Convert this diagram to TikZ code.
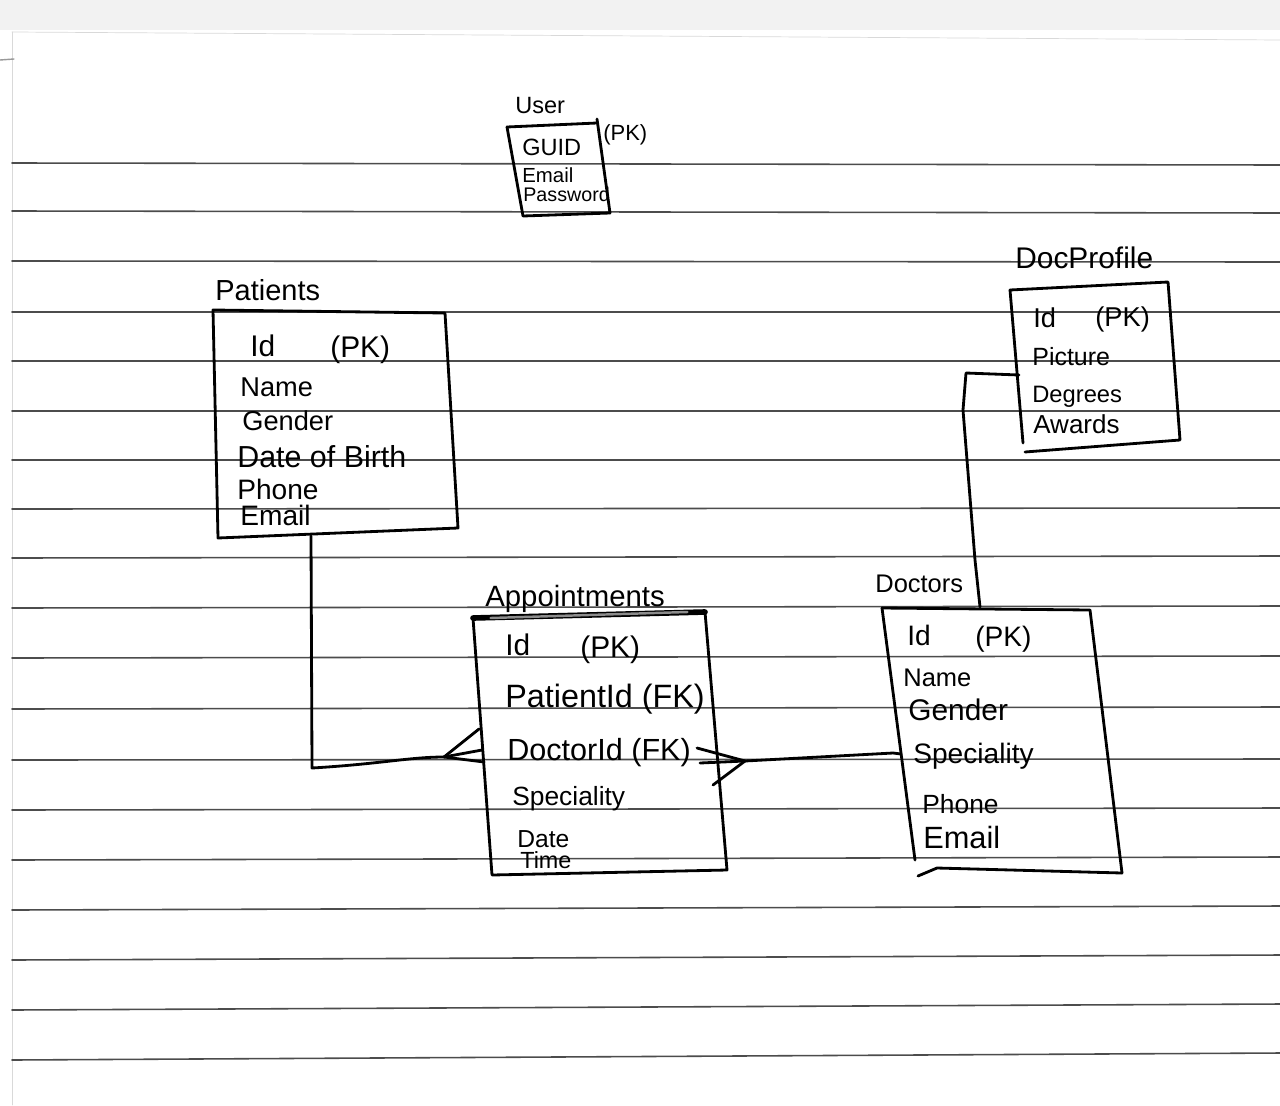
\documentclass[tikz,border=0pt]{standalone}
\usepackage{fontspec}
\setmainfont{Liberation Sans}
\begin{document}
\begin{tikzpicture}[x=0.02cm, y=-0.02cm, line cap=round, line join=round,
  rule/.style={black!70, line width=0.9pt},
  ink/.style={black, line width=1.6pt},
  lbl/.style={inner sep=0pt, anchor=base west, font=\fontsize{#1}{#1}\selectfont},
]
\useasboundingbox (0,0) rectangle (1280,1105);
\fill[white] (0,0) rectangle (1280,1105);
% paper edge
\fill[black!5] (0,0) rectangle (1280,30);
\draw[black!15, line width=0.4pt] (12,32) -- (12,1105);
\draw[black!15, line width=0.4pt] (12,32) -- (1280,40);
\draw[black!40, line width=0.8pt] (0,60) -- (14,59);

% ruled lines of the sheet
\foreach \y/\d in {163/2, 211/2, 261/1, 312/0, 361/0, 411/0, 460/0, 509/-1, 558/-2,
                   608/-2, 658/-2, 709/-2, 760/-1, 810/-2, 860/-3, 910/-4, 960/-5,
                   1010/-6, 1060/-7}
  \draw[rule] (12,\y) -- (1280,\y+\d);

% ---------- User ----------
\node[lbl=13.4] (usertitle) at (515,113) {User};
\coordinate (u1) at (507,127);
\coordinate (u2) at (597,123);
\coordinate (u2t) at (597,119);
\coordinate (u3) at (610,213);
\coordinate (u4) at (523,216);
\draw[ink] (u1) -- (u2);
\draw[ink] (u2t) -- (u3);
\draw[ink] (u1) -- (u4) -- (u3);
\node[lbl=13.4] (guid) at (522,155) {GUID};
\node[lbl=12.5] (guidpk) at (603,140) {(PK)};
\node[lbl=11.6] (uemail) at (522,182) {Email};
\node[lbl=11.2] (upass) at (523,201) {Password};

% ---------- Patients ----------
\node[lbl=16.5] (pattitle) at (215,300) {Patients};
\coordinate (p1) at (213,310);
\coordinate (p2) at (445,313);
\coordinate (p3) at (458,528);
\coordinate (p4) at (218,538);
\draw[ink] (p1) -- (p2) -- (p3) -- (p4) -- cycle;
\node[lbl=17] (pid) at (250,356) {Id};
\node[lbl=17] (ppk) at (330,357) {(PK)};
\node[lbl=15.5] (pname) at (240,396) {Name};
\node[lbl=15.5] (pgender) at (242,430) {Gender};
\node[lbl=17.3] (pdob) at (237,467) {Date of Birth};
\node[lbl=16] (pphone) at (237,499) {Phone};
\node[lbl=16] (pemail) at (240,525) {Email};

% ---------- Appointments ----------
\node[lbl=16.7] (apptitle) at (485,606) {Appointments};
\coordinate (a1) at (473,618);
\coordinate (a2) at (705,612);
\coordinate (a3) at (727,870);
\coordinate (a4) at (492,875);
\draw[ink] (a2) -- (a3) -- (a4) -- (a1);
\draw[black, line width=3.2pt] (a1) -- (a2);
\draw[black!45, line width=1.4pt] ([xshift=10]a1) -- ([xshift=-10]a2);
\node[lbl=17] (aid) at (505,655) {Id};
\node[lbl=17] (apk) at (580,657) {(PK)};
\node[lbl=18.4] (apat) at (505,707) {PatientId (FK)};
\node[lbl=17.4] (adoc) at (507,760) {DoctorId (FK)};
\node[lbl=15] (aspec) at (512,805) {Speciality};
\node[lbl=14] (adate) at (517,847) {Date};
\node[lbl=13.3] (atime) at (520,868) {Time};

% ---------- Doctors ----------
\node[lbl=14.5] (doctitle) at (875,592) {Doctors};
\coordinate (d1) at (882,608);
\coordinate (d2) at (1090,610);
\coordinate (d3) at (1122,873);
\coordinate (d4) at (915,860);
\coordinate (d5) at (918,876);
\draw[ink] (d1) -- (d2) -- (d3);
\draw[ink] (d1) -- (d4);
\draw[ink] (d5) -- (937,868) -- (d3);
\node[lbl=16] (did) at (907,645) {Id};
\node[lbl=16] (dpk) at (975,646) {(PK)};
\node[lbl=14.5] (dname) at (903,686) {Name};
\node[lbl=17] (dgender) at (908,720) {Gender};
\node[lbl=16] (dspec) at (913,763) {Speciality};
\node[lbl=15] (dphone) at (922,813) {Phone};
\node[lbl=17.5] (demail) at (923,848) {Email};

% ---------- DocProfile ----------
\node[lbl=17] (dptitle) at (1015,268) {DocProfile};
\coordinate (q1) at (1010,290);
\coordinate (q2) at (1168,282);
\coordinate (q3) at (1180,440);
\coordinate (q4) at (1023,443);
\coordinate (q5) at (1025,452);
\draw[ink] (q1) -- (q2) -- (q3) -- (q5);
\draw[ink] (q1) -- (q4);
\node[lbl=15.5] (qid) at (1033,327) {Id};
\node[lbl=15.5] (qpk) at (1095,326) {(PK)};
\node[lbl=14.2] (qpic) at (1032,365) {Picture};
\node[lbl=13.5] (qdeg) at (1032,402) {Degrees};
\node[lbl=14.8] (qaw) at (1033,433) {Awards};

% ---------- relationships ----------
% Patients -> Appointments (many side at Appointments)
\coordinate (pout) at (311,536);
\coordinate (pfork) at (444,757);
\draw[ink] (pout) -- (312,768) .. controls (380,764) and (410,757) .. (pfork);
\draw[ink] (pfork) -- (479,729);
\draw[ink] (pfork) -- (482,750);
\draw[ink] (pfork) -- (484,762);

% Doctors -> Appointments (many side at Appointments)
\coordinate (dfork) at (745,761);
\coordinate (din) at (901,754);
\draw[ink] (din) -- (893,753) -- (dfork);
\draw[ink] (dfork) -- (697,748);
\draw[ink] (dfork) -- (700,763);
\draw[ink] (dfork) -- (713,785);

% Doctors -> DocProfile
\coordinate (dtop) at (980,607);
\coordinate (qin) at (1019,375);
\draw[ink] (dtop) -- (975,560) -- (963,410) -- (966,373) -- (qin);
\end{tikzpicture}
\end{document}
